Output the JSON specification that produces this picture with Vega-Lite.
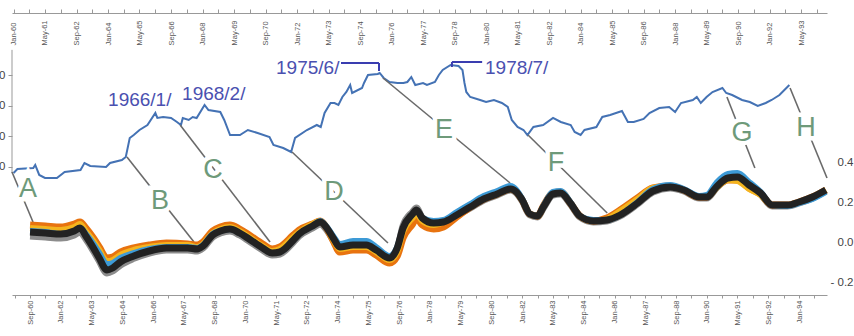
{
  "$schema": "https://vega.github.io/schema/vega-lite/v6.json",
  "width": 815,
  "height": 282,
  "autosize": {"type": "none"},
  "padding": {"left": 12, "top": 13, "right": 27, "bottom": 41},
  "background": "white",
  "config": {"view": {"stroke": null}, "font": "Liberation Sans", "axis": {"labelFont": "Liberation Sans", "grid": false, "labelOverlap": false, "labelFlush": false}},
  "datasets": {
    "blue": [
      {"d":"1960-01","v":80.3},{"d":"1960-03","v":93.4},{"d":"1960-11","v":96.7},{"d":"1960-12","v":106.6},{"d":"1961-02","v":73.8},{"d":"1961-05","v":63.9},{"d":"1961-11","v":63.9},{"d":"1962-03","v":83.6},{"d":"1962-11","v":90.2},{"d":"1963-01","v":113.1},{"d":"1963-04","v":103.3},{"d":"1963-12","v":100},{"d":"1964-02","v":113.1},{"d":"1964-08","v":123},{"d":"1964-10","v":132.8},{"d":"1964-12","v":195.1},{"d":"1965-02","v":204.9},{"d":"1965-05","v":221.3},{"d":"1965-09","v":237.7},{"d":"1966-01","v":277},{"d":"1966-02","v":260.7},{"d":"1966-05","v":264},{"d":"1966-09","v":260.7},{"d":"1966-12","v":247.5},{"d":"1967-02","v":237.7},{"d":"1967-03","v":260.7},{"d":"1967-06","v":254.1},{"d":"1967-08","v":264},{"d":"1967-10","v":260.7},{"d":"1968-02","v":303.3},{"d":"1968-04","v":286.9},{"d":"1968-10","v":280.3},{"d":"1968-12","v":254.1},{"d":"1969-03","v":204.9},{"d":"1969-08","v":204.9},{"d":"1969-12","v":221.3},{"d":"1970-05","v":211.5},{"d":"1970-11","v":198.4},{"d":"1971-01","v":172.1},{"d":"1971-06","v":162.3},{"d":"1971-10","v":149.2},{"d":"1971-12","v":195.1},{"d":"1972-06","v":221.3},{"d":"1972-11","v":237.7},{"d":"1973-01","v":231.1},{"d":"1973-03","v":277},{"d":"1973-06","v":309.8},{"d":"1973-08","v":309.8},{"d":"1973-10","v":303.3},{"d":"1973-12","v":329.5},{"d":"1974-02","v":345.9},{"d":"1974-04","v":368.9},{"d":"1974-05","v":342.6},{"d":"1974-10","v":359},{"d":"1974-11","v":375.4},{"d":"1975-01","v":401.6},{"d":"1975-06","v":404.9},{"d":"1975-07","v":408.2},{"d":"1975-09","v":391.8},{"d":"1975-12","v":378.7},{"d":"1976-04","v":375.4},{"d":"1976-07","v":375.4},{"d":"1976-09","v":378.7},{"d":"1976-11","v":395.1},{"d":"1977-01","v":368.9},{"d":"1977-05","v":375.4},{"d":"1977-07","v":368.9},{"d":"1977-11","v":378.7},{"d":"1978-01","v":401.6},{"d":"1978-03","v":418},{"d":"1978-07","v":434.4},{"d":"1978-11","v":431.1},{"d":"1979-01","v":418},{"d":"1979-02","v":375.4},{"d":"1979-03","v":345.9},{"d":"1979-05","v":329.5},{"d":"1979-10","v":319.7},{"d":"1980-01","v":313.1},{"d":"1980-05","v":319.7},{"d":"1980-09","v":309.8},{"d":"1980-12","v":296.7},{"d":"1981-02","v":254.1},{"d":"1981-05","v":231.1},{"d":"1981-08","v":221.3},{"d":"1981-10","v":204.9},{"d":"1982-01","v":231.1},{"d":"1982-06","v":237.7},{"d":"1982-11","v":260.7},{"d":"1983-03","v":247.5},{"d":"1983-08","v":237.7},{"d":"1983-10","v":214.8},{"d":"1984-01","v":204.9},{"d":"1984-03","v":221.3},{"d":"1984-09","v":231.1},{"d":"1984-12","v":264},{"d":"1985-04","v":270.5},{"d":"1985-10","v":283.6},{"d":"1986-01","v":247.5},{"d":"1986-04","v":247.5},{"d":"1986-09","v":257.4},{"d":"1986-12","v":277},{"d":"1987-05","v":293.4},{"d":"1987-10","v":296.7},{"d":"1988-01","v":280.3},{"d":"1988-04","v":309.8},{"d":"1988-10","v":319.7},{"d":"1988-12","v":329.5},{"d":"1989-02","v":309.8},{"d":"1989-05","v":329.5},{"d":"1989-08","v":345.9},{"d":"1990-01","v":359},{"d":"1990-03","v":342.6},{"d":"1990-06","v":336.1},{"d":"1990-11","v":319.7},{"d":"1991-03","v":313.1},{"d":"1991-07","v":300},{"d":"1991-11","v":309.8},{"d":"1992-02","v":319.7},{"d":"1992-06","v":336.1},{"d":"1992-11","v":368.9}
    ],
    "conn": [
      {"d1":"1959-12-08","v1":83.6,"d2":"1960-10-28","v2":-80.3},
      {"d1":"1964-10-19","v1":132.8,"d2":"1967-08-21","v2":-145.9},
      {"d1":"1967-01-19","v1":237.7,"d2":"1970-11-09","v2":-145.9},
      {"d1":"1971-10-15","v1":149.2,"d2":"1975-11-06","v2":-149.2},
      {"d1":"1975-08-21","v1":391.8,"d2":"1981-01-06","v2":47.5},
      {"d1":"1981-10-10","v1":204.9,"d2":"1985-02-15","v2":-50.8},
      {"d1":"1990-03-12","v1":329.5,"d2":"1991-05-18","v2":96.7},
      {"d1":"1992-11-12","v1":359,"d2":"1994-06-06","v2":63.9}
    ],
    "letters": [
      {"d":"1960-08-12","v":27.9,"t":"A"},{"d":"1966-03-12","v":-11.5,"t":"B"},{"d":"1968-06-10","v":90.2,"t":"C"},{"d":"1973-07-25","v":18,"t":"D"},{"d":"1978-03-21","v":221.3,"t":"E"},{"d":"1982-12-16","v":113.1,"t":"F"},{"d":"1990-11-01","v":211.5,"t":"G"},{"d":"1993-07-16","v":227.9,"t":"H"}
    ],
    "dates": [
      {"d":"1964-01-01","v":319.7,"t":"1966/1/"},{"d":"1967-02-18","v":339.3,"t":"1968/2/"},{"d":"1971-02-10","v":424.6,"t":"1975/6/"},{"d":"1979-12-15","v":424.6,"t":"1978/7/"}
    ],
    "bracket": [
      {"d1":"1973-11-10","v1":441,"d2":"1975-06-20","v2":441},
      {"d1":"1975-06-20","v1":441,"d2":"1975-06-20","v2":414.8},
      {"d1":"1978-07-22","v1":444.3,"d2":"1979-11-01","v2":444.3},
      {"d1":"1978-07-22","v1":444.3,"d2":"1978-07-22","v2":427.9}
    ],
    "leftaxis": [
      {"d1":"1959-12-08","v1":80,"d2":"1959-12-08","v2":484}
    ],
    "bottom": [
      {"d":"1960-09","k":0.05,"o":0.085,"y":0.07,"b":0.055,"g":0.03},
      {"d":"1961-05","k":0.045,"o":0.08,"y":0.065,"b":0.05,"g":0.025},
      {"d":"1962-01","k":0.04,"o":0.075,"y":0.06,"b":0.04,"g":0.02},
      {"d":"1962-08","k":0.055,"o":0.09,"y":0.075,"b":0.055,"g":0.035},
      {"d":"1962-11","k":0.07,"o":0.1,"y":0.09,"b":0.07,"g":0.05},
      {"d":"1963-02","k":0.03,"o":0.07,"y":0.055,"b":0.04,"g":0.015},
      {"d":"1963-06","k":-0.03,"o":0.02,"y":0.005,"b":-0.01,"g":-0.045},
      {"d":"1963-09","k":-0.08,"o":-0.025,"y":-0.04,"b":-0.055,"g":-0.095},
      {"d":"1964-01","k":-0.14,"o":-0.08,"y":-0.095,"b":-0.11,"g":-0.155},
      {"d":"1964-04","k":-0.13,"o":-0.075,"y":-0.09,"b":-0.105,"g":-0.145},
      {"d":"1964-08","k":-0.1,"o":-0.05,"y":-0.065,"b":-0.08,"g":-0.115},
      {"d":"1965-03","k":-0.07,"o":-0.03,"y":-0.04,"b":-0.055,"g":-0.082},
      {"d":"1965-11","k":-0.045,"o":-0.015,"y":-0.025,"b":-0.035,"g":-0.055},
      {"d":"1966-08","k":-0.03,"o":-0.005,"y":-0.015,"b":-0.025,"g":-0.04},
      {"d":"1967-07","k":-0.03,"o":-0.01,"y":-0.015,"b":-0.025,"g":-0.04},
      {"d":"1967-12","k":-0.035,"o":-0.015,"y":-0.025,"b":-0.03,"g":-0.045},
      {"d":"1968-03","k":-0.02,"o":0.0,"y":-0.01,"b":-0.015,"g":-0.03},
      {"d":"1968-08","k":0.035,"o":0.055,"y":0.045,"b":0.04,"g":0.025},
      {"d":"1968-12","k":0.055,"o":0.075,"y":0.065,"b":0.055,"g":0.045},
      {"d":"1969-05","k":0.065,"o":0.085,"y":0.075,"b":0.065,"g":0.055},
      {"d":"1969-10","k":0.045,"o":0.065,"y":0.055,"b":0.045,"g":0.035},
      {"d":"1970-03","k":0.015,"o":0.035,"y":0.025,"b":0.015,"g":0.005},
      {"d":"1970-10","k":-0.03,"o":-0.01,"y":-0.02,"b":-0.03,"g":-0.04},
      {"d":"1971-03","k":-0.055,"o":-0.035,"y":-0.045,"b":-0.055,"g":-0.065},
      {"d":"1971-07","k":-0.05,"o":-0.025,"y":-0.035,"b":-0.05,"g":-0.06},
      {"d":"1972-02","k":0.01,"o":0.035,"y":0.025,"b":0.01,"g":0.0},
      {"d":"1972-05","k":0.04,"o":0.06,"y":0.05,"b":0.04,"g":0.03},
      {"d":"1972-12","k":0.08,"o":0.09,"y":0.09,"b":0.08,"g":0.07},
      {"d":"1973-04","k":0.1,"o":0.105,"y":0.105,"b":0.105,"g":0.09},
      {"d":"1973-07","k":0.075,"o":0.075,"y":0.075,"b":0.08,"g":0.065},
      {"d":"1973-11","k":0.015,"o":0.0,"y":0.005,"b":0.025,"g":0.005},
      {"d":"1974-02","k":-0.025,"o":-0.05,"y":-0.035,"b":-0.01,"g":-0.035},
      {"d":"1974-09","k":-0.015,"o":-0.04,"y":-0.025,"b":0.005,"g":-0.025},
      {"d":"1975-04","k":-0.015,"o":-0.04,"y":-0.025,"b":0.005,"g":-0.025},
      {"d":"1975-09","k":-0.04,"o":-0.065,"y":-0.05,"b":-0.025,"g":-0.05},
      {"d":"1976-04","k":-0.08,"o":-0.105,"y":-0.09,"b":-0.07,"g":-0.09},
      {"d":"1976-08","k":-0.03,"o":-0.07,"y":-0.05,"b":-0.025,"g":-0.04},
      {"d":"1976-11","k":0.07,"o":0.02,"y":0.05,"b":0.07,"g":0.08},
      {"d":"1977-04","k":0.14,"o":0.09,"y":0.12,"b":0.14,"g":0.15},
      {"d":"1977-06","k":0.16,"o":0.12,"y":0.14,"b":0.16,"g":0.17},
      {"d":"1977-09","k":0.12,"o":0.085,"y":0.105,"b":0.12,"g":0.12},
      {"d":"1978-03","k":0.095,"o":0.065,"y":0.085,"b":0.105,"g":0.095},
      {"d":"1978-08","k":0.1,"o":0.075,"y":0.1,"b":0.11,"g":0.1},
      {"d":"1979-03","k":0.135,"o":0.125,"y":0.145,"b":0.15,"g":0.135},
      {"d":"1979-10","k":0.175,"o":0.175,"y":0.185,"b":0.19,"g":0.17},
      {"d":"1980-05","k":0.215,"o":0.215,"y":0.215,"b":0.23,"g":0.21},
      {"d":"1980-12","k":0.24,"o":0.24,"y":0.24,"b":0.255,"g":0.235},
      {"d":"1981-07","k":0.265,"o":0.265,"y":0.265,"b":0.28,"g":0.26},
      {"d":"1981-10","k":0.25,"o":0.25,"y":0.25,"b":0.26,"g":0.245},
      {"d":"1982-01","k":0.21,"o":0.21,"y":0.21,"b":0.215,"g":0.205},
      {"d":"1982-05","k":0.14,"o":0.14,"y":0.14,"b":0.14,"g":0.135},
      {"d":"1982-09","k":0.13,"o":0.13,"y":0.13,"b":0.13,"g":0.125},
      {"d":"1982-12","k":0.175,"o":0.18,"y":0.175,"b":0.18,"g":0.17},
      {"d":"1983-05","k":0.24,"o":0.245,"y":0.245,"b":0.25,"g":0.235},
      {"d":"1983-09","k":0.245,"o":0.25,"y":0.25,"b":0.255,"g":0.24},
      {"d":"1984-02","k":0.195,"o":0.195,"y":0.195,"b":0.2,"g":0.19},
      {"d":"1984-07","k":0.13,"o":0.13,"y":0.13,"b":0.13,"g":0.125},
      {"d":"1985-02","k":0.105,"o":0.105,"y":0.105,"b":0.11,"g":0.1},
      {"d":"1985-09","k":0.11,"o":0.12,"y":0.115,"b":0.11,"g":0.105},
      {"d":"1986-04","k":0.135,"o":0.16,"y":0.155,"b":0.135,"g":0.13},
      {"d":"1987-01","k":0.195,"o":0.22,"y":0.215,"b":0.2,"g":0.19},
      {"d":"1987-09","k":0.255,"o":0.27,"y":0.27,"b":0.265,"g":0.25},
      {"d":"1988-06","k":0.275,"o":0.28,"y":0.28,"b":0.285,"g":0.27},
      {"d":"1989-01","k":0.26,"o":0.26,"y":0.26,"b":0.265,"g":0.255},
      {"d":"1989-09","k":0.225,"o":0.225,"y":0.225,"b":0.23,"g":0.22},
      {"d":"1990-01","k":0.225,"o":0.225,"y":0.225,"b":0.235,"g":0.22},
      {"d":"1990-06","k":0.275,"o":0.275,"y":0.27,"b":0.295,"g":0.27},
      {"d":"1990-12","k":0.32,"o":0.31,"y":0.31,"b":0.34,"g":0.315},
      {"d":"1991-05","k":0.325,"o":0.31,"y":0.305,"b":0.345,"g":0.32},
      {"d":"1991-11","k":0.285,"o":0.27,"y":0.265,"b":0.3,"g":0.28},
      {"d":"1992-05","k":0.245,"o":0.24,"y":0.235,"b":0.25,"g":0.24},
      {"d":"1992-11","k":0.185,"o":0.185,"y":0.185,"b":0.185,"g":0.18},
      {"d":"1993-07","k":0.185,"o":0.185,"y":0.185,"b":0.18,"g":0.18},
      {"d":"1994-01","k":0.2,"o":0.2,"y":0.2,"b":0.195,"g":0.195},
      {"d":"1994-08","k":0.225,"o":0.225,"y":0.225,"b":0.215,"g":0.22},
      {"d":"1995-03","k":0.26,"o":0.26,"y":0.26,"b":0.25,"g":0.255}
    ]
  },
  "layer": [
    {
      "layer": [
        {
          "data": {"name": "blue"},
          "mark": {"type": "line", "color": "#4472b4", "strokeWidth": 2},
          "encoding": {
            "x": {"field": "d", "type": "temporal",
              "scale": {"type": "utc", "nice": false, "domain": [{"year":1959,"month":12,"date":8,"utc":true},{"year":1994,"month":6,"date":6,"utc":true}]},
              "axis": {"orient": "top", "title": null, "grid": false, "tickCount": 80,
                "values": [{"year":1960,"month":1,"utc":true},{"year":1960,"month":9,"utc":true},{"year":1961,"month":5,"utc":true},{"year":1962,"month":1,"utc":true},{"year":1962,"month":9,"utc":true},{"year":1963,"month":5,"utc":true},{"year":1964,"month":1,"utc":true},{"year":1964,"month":9,"utc":true},{"year":1965,"month":5,"utc":true},{"year":1966,"month":1,"utc":true},{"year":1966,"month":9,"utc":true},{"year":1967,"month":5,"utc":true},{"year":1968,"month":1,"utc":true},{"year":1968,"month":9,"utc":true},{"year":1969,"month":5,"utc":true},{"year":1970,"month":1,"utc":true},{"year":1970,"month":9,"utc":true},{"year":1971,"month":5,"utc":true},{"year":1972,"month":1,"utc":true},{"year":1972,"month":9,"utc":true},{"year":1973,"month":5,"utc":true},{"year":1974,"month":1,"utc":true},{"year":1974,"month":9,"utc":true},{"year":1975,"month":5,"utc":true},{"year":1976,"month":1,"utc":true},{"year":1976,"month":9,"utc":true},{"year":1977,"month":5,"utc":true},{"year":1978,"month":1,"utc":true},{"year":1978,"month":9,"utc":true},{"year":1979,"month":5,"utc":true},{"year":1980,"month":1,"utc":true},{"year":1980,"month":9,"utc":true},{"year":1981,"month":5,"utc":true},{"year":1982,"month":1,"utc":true},{"year":1982,"month":9,"utc":true},{"year":1983,"month":5,"utc":true},{"year":1984,"month":1,"utc":true},{"year":1984,"month":9,"utc":true},{"year":1985,"month":5,"utc":true},{"year":1986,"month":1,"utc":true},{"year":1986,"month":9,"utc":true},{"year":1987,"month":5,"utc":true},{"year":1988,"month":1,"utc":true},{"year":1988,"month":9,"utc":true},{"year":1989,"month":5,"utc":true},{"year":1990,"month":1,"utc":true},{"year":1990,"month":9,"utc":true},{"year":1991,"month":5,"utc":true},{"year":1992,"month":1,"utc":true},{"year":1992,"month":9,"utc":true},{"year":1993,"month":5,"utc":true},{"year":1994,"month":1,"utc":true}],
                "labelExpr": "((utcyear(datum.value)-1960)*12+utcmonth(datum.value))%16==0 ? utcFormat(datum.value,'%b-%y') : ''",
                "labelAngle": 270, "labelAlign": "left", "labelBaseline": "middle", "labelFontSize": 7.5, "labelColor": "#555555", "labelPadding": -36, "tickSize": 4,
                "tickColor": "#999999", "domainColor": "#999999", "labelOverlap": false, "labelFlush": false}},
            "y": {"field": "v", "type": "quantitative",
              "scale": {"domain": [-319.7, 604.9], "nice": false, "zero": false},
              "axis": {"orient": "left", "values": [100, 200, 300, 400], "domain": false, "tickSize": 4, "tickColor": "#999999",
                "labelPadding": 3, "labelFontSize": 11.5, "labelColor": "#444444", "title": null, "grid": false}}
          }
        },
        {
          "data": {"name": "leftaxis"},
          "mark": {"type": "rule", "color": "#999999", "strokeWidth": 1},
          "encoding": {
            "x": {"field": "d1", "type": "temporal"}, "x2": {"field": "d2"},
            "y": {"field": "v1", "type": "quantitative"}, "y2": {"field": "v2"}
          }
        },
        {
          "data": {"name": "conn"},
          "mark": {"type": "rule", "color": "#6a6a6a", "strokeWidth": 1.6},
          "encoding": {
            "x": {"field": "d1", "type": "temporal"}, "x2": {"field": "d2"},
            "y": {"field": "v1", "type": "quantitative"}, "y2": {"field": "v2"}
          }
        },
        {
          "data": {"name": "bracket"},
          "mark": {"type": "rule", "color": "#3a3db0", "strokeWidth": 2},
          "encoding": {
            "x": {"field": "d1", "type": "temporal"}, "x2": {"field": "d2"},
            "y": {"field": "v1", "type": "quantitative"}, "y2": {"field": "v2"}
          }
        },
        {
          "data": {"name": "letters"},
          "mark": {"type": "text", "fontSize": 27, "font": "Liberation Sans", "color": "white", "stroke": "white", "strokeWidth": 9, "align": "center", "baseline": "middle"},
          "encoding": {
            "x": {"field": "d", "type": "temporal"},
            "y": {"field": "v", "type": "quantitative"},
            "text": {"field": "t"}
          }
        },
        {
          "data": {"name": "letters"},
          "mark": {"type": "text", "fontSize": 27, "font": "Liberation Sans", "color": "#6e9a7a", "align": "center", "baseline": "middle"},
          "encoding": {
            "x": {"field": "d", "type": "temporal"},
            "y": {"field": "v", "type": "quantitative"},
            "text": {"field": "t"}
          }
        },
        {
          "data": {"name": "dates"},
          "mark": {"type": "text", "fontSize": 19, "font": "Liberation Sans", "color": "#4a50b0", "align": "left", "baseline": "middle"},
          "encoding": {
            "x": {"field": "d", "type": "temporal"},
            "y": {"field": "v", "type": "quantitative"},
            "text": {"field": "t"}
          }
        }
      ]
    },
    {
      "data": {"name": "bottom"},
      "layer": [
        {
          "mark": {"type": "line", "color": "#8c8c8c", "strokeWidth": 7, "interpolate": "monotone"},
          "encoding": {
            "x": {"field": "d", "type": "temporal",
              "scale": {"type": "utc", "nice": false, "domain": [{"year":1959,"month":11,"date":20,"utc":true},{"year":1995,"month":3,"date":19,"utc":true}]},
              "axis": {"orient": "bottom", "title": null, "grid": false, "tickCount": 80,
                "values": [{"year":1960,"month":1,"utc":true},{"year":1960,"month":9,"utc":true},{"year":1961,"month":5,"utc":true},{"year":1962,"month":1,"utc":true},{"year":1962,"month":9,"utc":true},{"year":1963,"month":5,"utc":true},{"year":1964,"month":1,"utc":true},{"year":1964,"month":9,"utc":true},{"year":1965,"month":5,"utc":true},{"year":1966,"month":1,"utc":true},{"year":1966,"month":9,"utc":true},{"year":1967,"month":5,"utc":true},{"year":1968,"month":1,"utc":true},{"year":1968,"month":9,"utc":true},{"year":1969,"month":5,"utc":true},{"year":1970,"month":1,"utc":true},{"year":1970,"month":9,"utc":true},{"year":1971,"month":5,"utc":true},{"year":1972,"month":1,"utc":true},{"year":1972,"month":9,"utc":true},{"year":1973,"month":5,"utc":true},{"year":1974,"month":1,"utc":true},{"year":1974,"month":9,"utc":true},{"year":1975,"month":5,"utc":true},{"year":1976,"month":1,"utc":true},{"year":1976,"month":9,"utc":true},{"year":1977,"month":5,"utc":true},{"year":1978,"month":1,"utc":true},{"year":1978,"month":9,"utc":true},{"year":1979,"month":5,"utc":true},{"year":1980,"month":1,"utc":true},{"year":1980,"month":9,"utc":true},{"year":1981,"month":5,"utc":true},{"year":1982,"month":1,"utc":true},{"year":1982,"month":9,"utc":true},{"year":1983,"month":5,"utc":true},{"year":1984,"month":1,"utc":true},{"year":1984,"month":9,"utc":true},{"year":1985,"month":5,"utc":true},{"year":1986,"month":1,"utc":true},{"year":1986,"month":9,"utc":true},{"year":1987,"month":5,"utc":true},{"year":1988,"month":1,"utc":true},{"year":1988,"month":9,"utc":true},{"year":1989,"month":5,"utc":true},{"year":1990,"month":1,"utc":true},{"year":1990,"month":9,"utc":true},{"year":1991,"month":5,"utc":true},{"year":1992,"month":1,"utc":true},{"year":1992,"month":9,"utc":true},{"year":1993,"month":5,"utc":true},{"year":1994,"month":1,"utc":true},{"year":1994,"month":9,"utc":true}],
                "labelExpr": "((utcyear(datum.value)-1960)*12+utcmonth(datum.value))%16==8 ? utcFormat(datum.value,'%b-%y') : ''",
                "labelAngle": 270, "labelAlign": "right", "labelBaseline": "middle", "labelFontSize": 7.5, "labelColor": "#555555", "labelPadding": 2, "tickSize": 3,
                "tickColor": "#999999", "domainColor": "#999999", "labelOverlap": false, "labelFlush": false}},
            "y": {"field": "g", "type": "quantitative",
              "scale": {"domain": [-0.265, 1.145], "nice": false, "zero": false},
              "axis": {"orient": "right", "values": [-0.2, 0, 0.2, 0.4], "domain": false, "ticks": false, "tickSize": 0,
                "labelAlign": "right", "labelPadding": 26, "labelFontSize": 11.5, "labelColor": "#444444", "title": null, "grid": false,
                "labelExpr": "datum.value < 0 ? '- ' + format(-datum.value, '.1f') : format(datum.value, '.1f')"}}
          }
        },
        {
          "mark": {"type": "line", "color": "#e8730f", "strokeWidth": 7, "interpolate": "monotone"},
          "encoding": {"x": {"field": "d", "type": "temporal"}, "y": {"field": "o", "type": "quantitative"}}
        },
        {
          "mark": {"type": "line", "color": "#f4b41e", "strokeWidth": 6, "interpolate": "monotone"},
          "encoding": {"x": {"field": "d", "type": "temporal"}, "y": {"field": "y", "type": "quantitative"}}
        },
        {
          "mark": {"type": "line", "color": "#3d9ad6", "strokeWidth": 6, "interpolate": "monotone"},
          "encoding": {"x": {"field": "d", "type": "temporal"}, "y": {"field": "b", "type": "quantitative"}}
        },
        {
          "mark": {"type": "line", "color": "#222222", "strokeWidth": 7, "interpolate": "monotone"},
          "encoding": {"x": {"field": "d", "type": "temporal"}, "y": {"field": "k", "type": "quantitative"}}
        }
      ]
    }
  ],
  "resolve": {"scale": {"x": "independent", "y": "independent"}, "axis": {"x": "independent", "y": "independent"}}
}
